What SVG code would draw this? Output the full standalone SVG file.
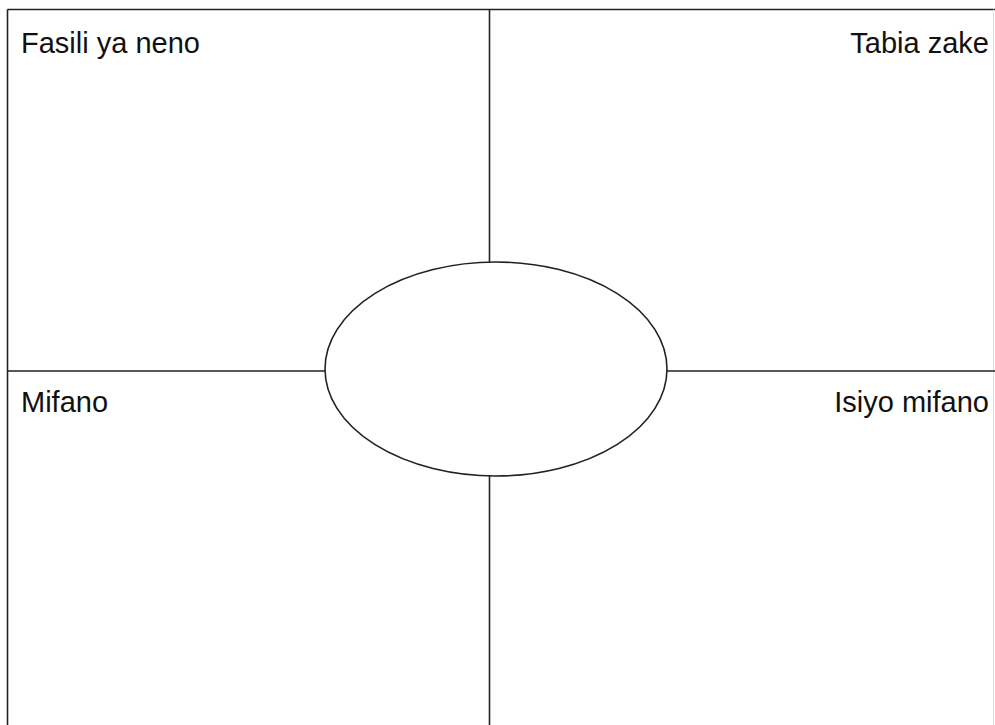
<svg xmlns="http://www.w3.org/2000/svg" width="995" height="725" viewBox="0 0 995 725">
<style>
.ln{stroke:#222;stroke-width:1.6;fill:none}
.lbl{font-family:"Liberation Sans",Arial,sans-serif;font-size:29px;fill:#111}
</style>
<rect x="0" y="0" width="995" height="725" fill="#fff"/>
<g id="frame">
<line class="ln" x1="7.5" y1="9.5" x2="995" y2="9.5"/>
<line class="ln" x1="7.5" y1="9.5" x2="7.5" y2="725"/>
<line x1="993.5" y1="9.5" x2="993.5" y2="725" stroke="#ddd" stroke-width="1"/>
</g>
<g id="connectors">
<line class="ln" x1="489.5" y1="9.5" x2="489.5" y2="262"/>
<line class="ln" x1="489.5" y1="476" x2="489.5" y2="725"/>
<line class="ln" x1="7.5" y1="371" x2="325" y2="371"/>
<line class="ln" x1="667" y1="371" x2="995" y2="371"/>
</g>
<g id="center">
<ellipse class="ln" cx="496" cy="369" rx="171" ry="107" fill="#fff"/>
</g>
<g id="q1"><text class="lbl" x="21" y="53">Fasili ya neno</text></g>
<g id="q2"><text class="lbl" x="989" y="53" text-anchor="end">Tabia zake</text></g>
<g id="q3"><text class="lbl" x="21" y="412">Mifano</text></g>
<g id="q4"><text class="lbl" x="989" y="412" text-anchor="end">Isiyo mifano</text></g>
</svg>
